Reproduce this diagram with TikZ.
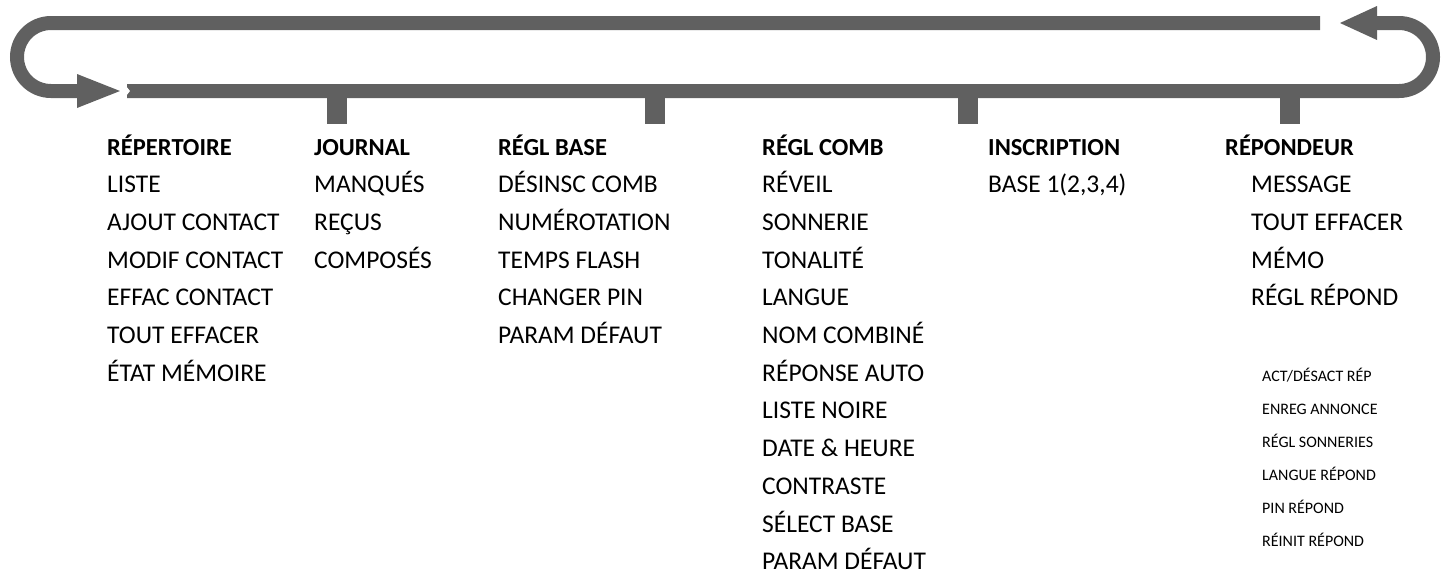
\documentclass[tikz,border=0pt]{standalone}
\usepackage{fontspec}
\setmainfont{Carlito}
\begin{document}
\begin{tikzpicture}[x=1pt,y=-1pt,
  bar/.style={draw=barc,line width=14pt},
  lbl/.style={anchor=base west,inner sep=0pt,font=\fontsize{25.5}{27}\selectfont},
  hdr/.style={lbl,font=\fontsize{24.5}{26}\selectfont\bfseries},
  sml/.style={lbl,font=\fontsize{16}{18}\selectfont}]
\definecolor{barc}{RGB}{96,96,96}
\useasboundingbox (0,0) rectangle (1448,579);
% loop
\draw[bar] (1320,23) -- (51,23) arc[start angle=270,end angle=90,radius=34] -- (78,91);
\fill[barc] (77,74) -- (120,91) -- (77,108) -- cycle;
\draw[bar] (127,91) -- (1399,91) arc[start angle=90,end angle=-90,radius=34] -- (1370,23);
\fill[barc] (1377,6) -- (1340,23) -- (1377,40) -- cycle;
\fill[white] (1318,13) -- (1328,23) -- (1318,33) -- (1330,33) -- (1330,13) -- cycle;
\fill[white] (122,81) -- (130,91) -- (122,101) -- (120,101) -- (120,81) -- cycle;
% stubs
\foreach \x in {337,655,968,1290} \fill[barc] (\x-10,97) rectangle (\x+10,124);
% columns
\def\dy{37.7}
\node[hdr] (h1) at (107,155) {RÉPERTOIRE};
\foreach \t [count=\i] in {LISTE,AJOUT CONTACT,MODIF CONTACT,EFFAC CONTACT,TOUT EFFACER,ÉTAT MÉMOIRE}
  \node[lbl] (a\i) at (107,155+\i*\dy) {\t};
\node[hdr] (h2) at (314,155) {JOURNAL};
\foreach \t [count=\i] in {MANQUÉS,REÇUS,COMPOSÉS}
  \node[lbl] (b\i) at (314,155+\i*\dy) {\t};
\node[hdr] (h3) at (498,155) {RÉGL BASE};
\foreach \t [count=\i] in {DÉSINSC COMB,NUMÉROTATION,TEMPS FLASH,CHANGER PIN,PARAM DÉFAUT}
  \node[lbl] (c\i) at (498,155+\i*\dy) {\t};
\node[hdr] (h4) at (762,155) {RÉGL COMB};
\foreach \t [count=\i] in {RÉVEIL,SONNERIE,TONALITÉ,LANGUE,NOM COMBINÉ,RÉPONSE AUTO,LISTE NOIRE,DATE \& HEURE,CONTRASTE,SÉLECT BASE,PARAM DÉFAUT}
  \node[lbl] (d\i) at (762,155+\i*\dy) {\t};
\node[hdr] (h5) at (988,155) {INSCRIPTION};
\node[lbl] (e1) at (988,155+\dy) {BASE 1(2,3,4)};
\node[hdr] (h6) at (1225,155) {RÉPONDEUR};
\foreach \t [count=\i] in {MESSAGE,TOUT EFFACER,MÉMO,RÉGL RÉPOND}
  \node[lbl] (f\i) at (1251,155+\i*\dy) {\t};
\foreach \t [count=\i] in {ACT/DÉSACT RÉP,ENREG ANNONCE,RÉGL SONNERIES,LANGUE RÉPOND,PIN RÉPOND,RÉINIT RÉPOND}
  \node[sml] (g\i) at (1262,155+6*\dy+\i*33-33) {\t};
\end{tikzpicture}
\end{document}
